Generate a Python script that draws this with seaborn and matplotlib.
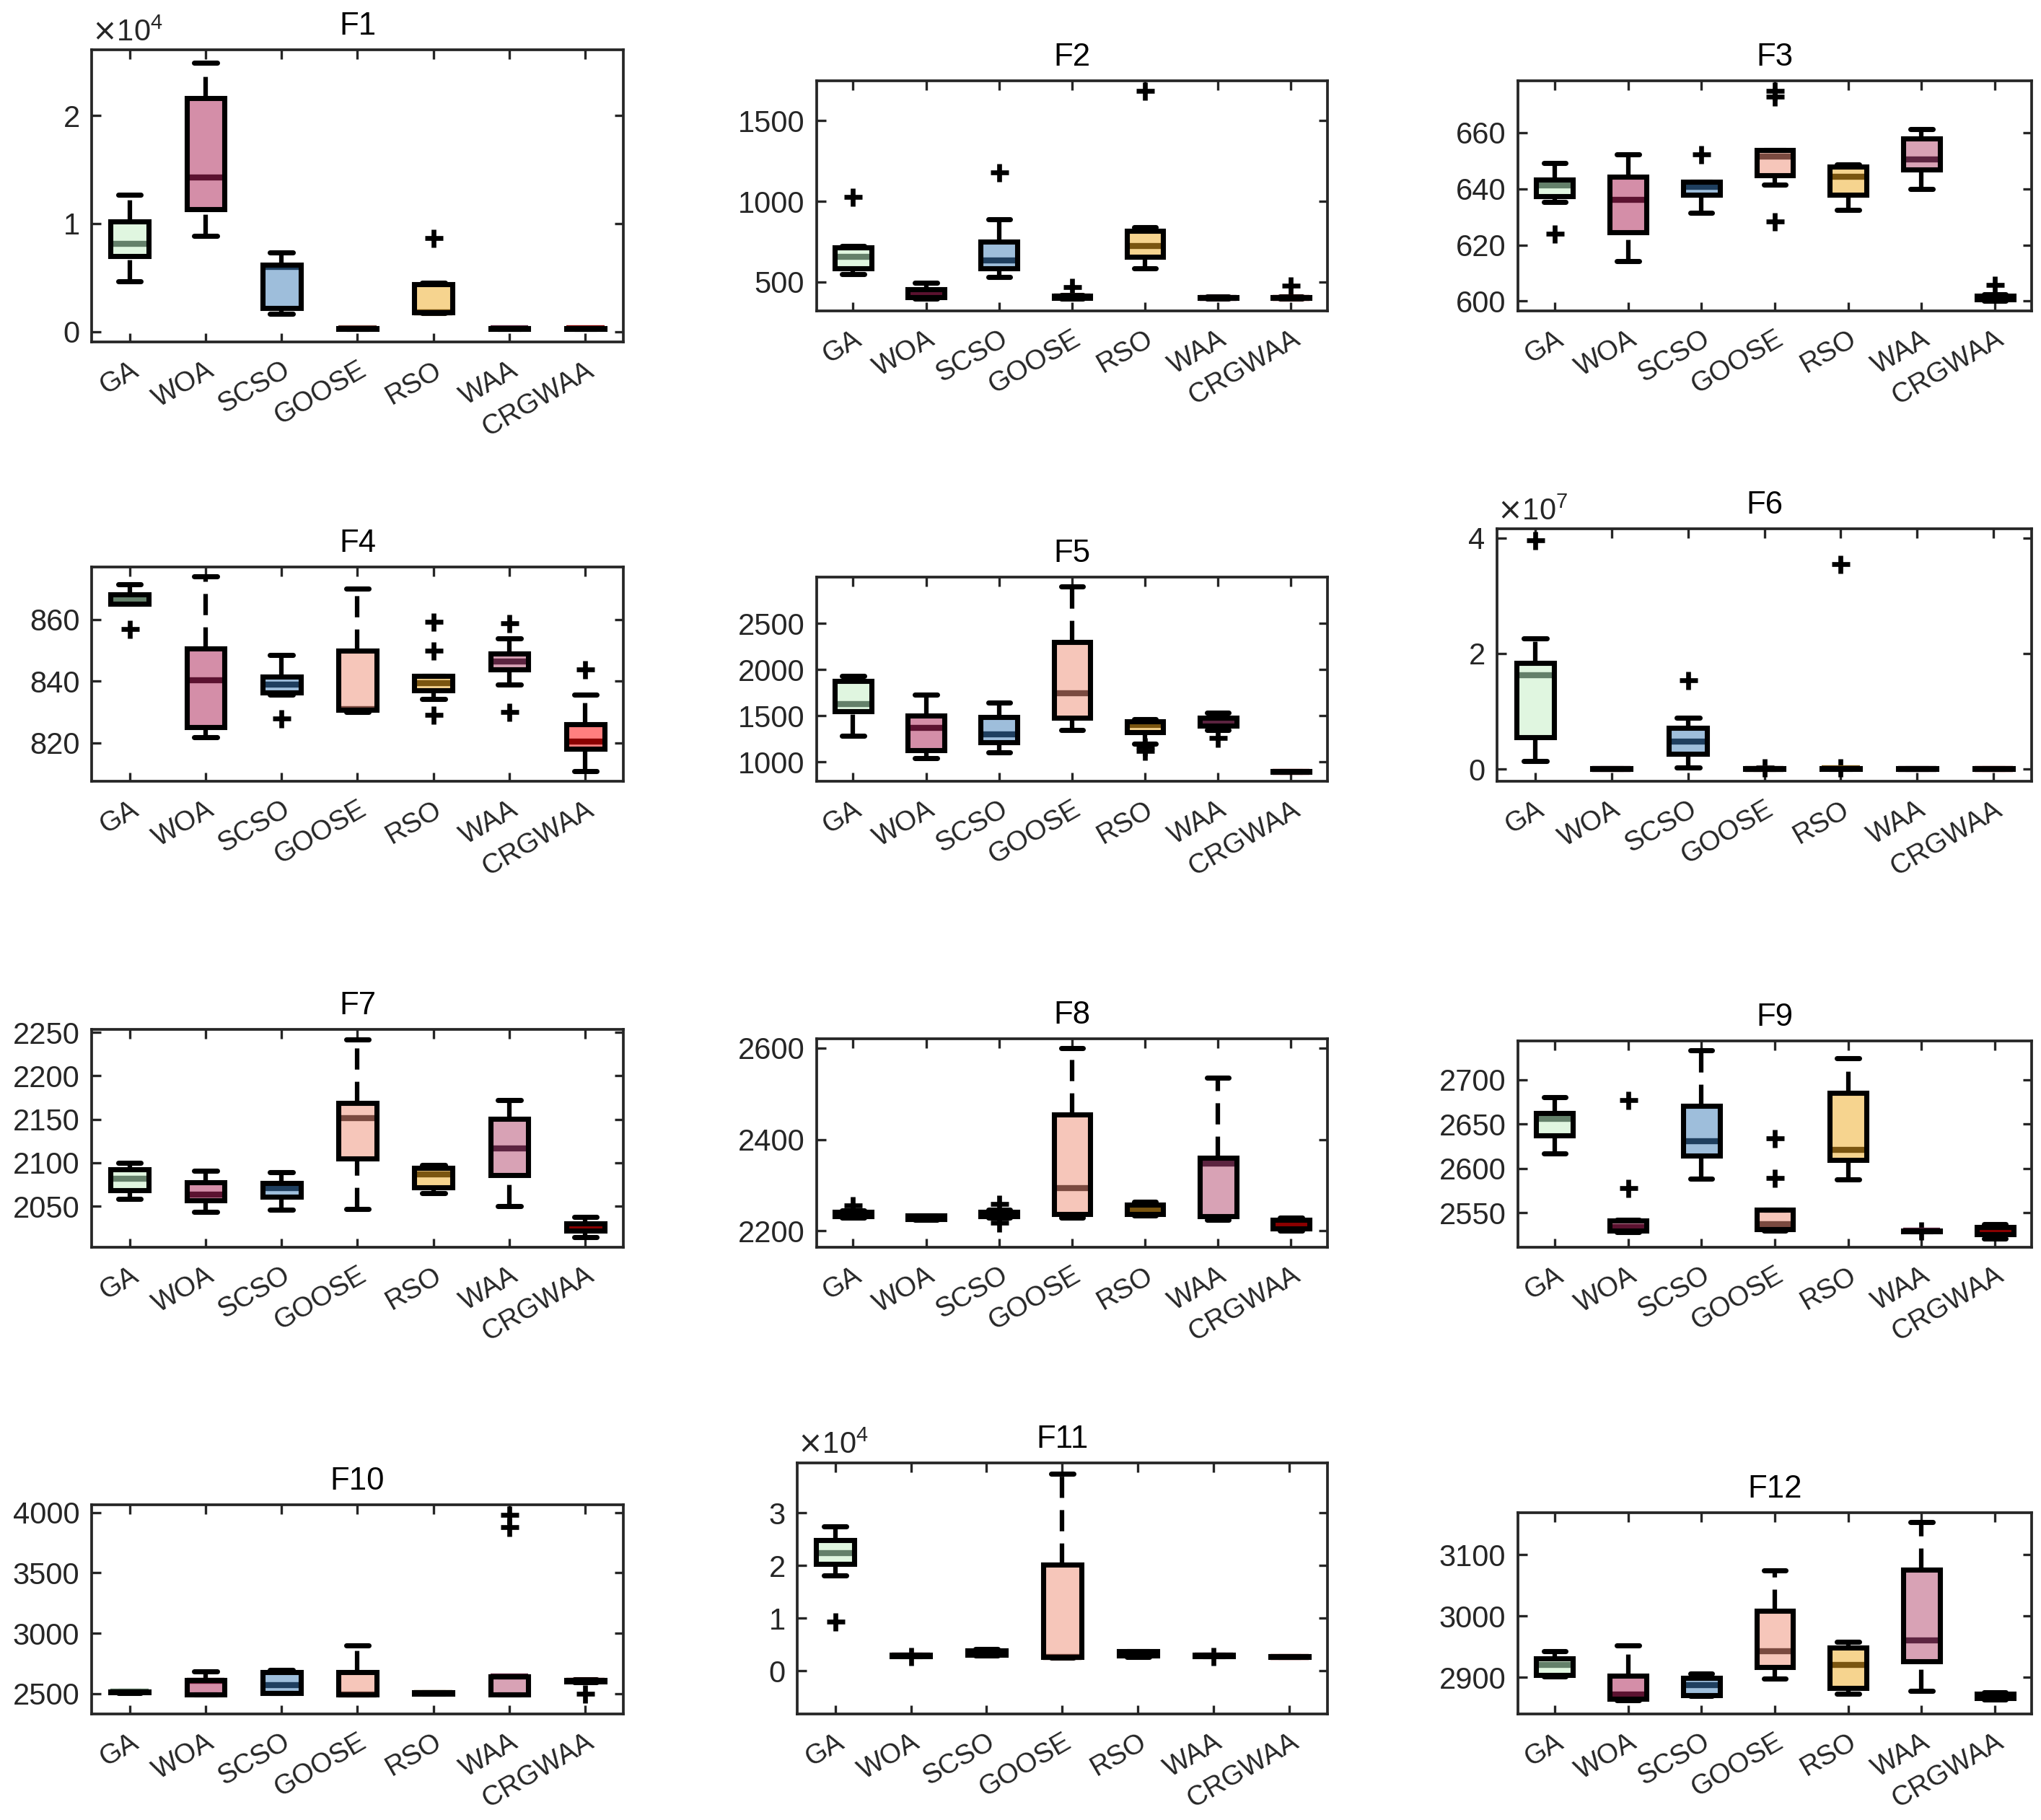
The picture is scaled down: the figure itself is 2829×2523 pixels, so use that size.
import numpy as np
import seaborn as sns
import matplotlib.pyplot as plt
from matplotlib.patches import PathPatch

algos = ['GA', 'WOA', 'SCSO', 'GOOSE', 'RSO', 'WAA', 'CRGWAA']
fill_colors = ['#e0f6e0', '#d48ea8', '#9ebedb', '#f6c6ba', '#f6d48f', '#d8a2b5', '#ff7f7f']
median_colors = ['#64806a', '#5b1230', '#1f3f5f', '#7a4a40', '#7a5510', '#5c2440', '#8b0000']

# one row per algorithm: lower whisker, q1, median, q3, upper whisker
f1_box = [[4660, 6960, 8130, 10210, 12680], [8820, 11320, 14230, 21580, 24880],
          [1610, 2160, 6000, 6190, 7300], [250, 270, 280, 300, 320],
          [1700, 1750, 1800, 4380, 4500], [250, 270, 280, 290, 310],
          [250, 270, 280, 290, 310]]
f1_out = [[], [], [], [], [8680], [], []]

f2_box = [[548, 583, 657, 712, 721], [395, 404, 426, 454, 493],
          [533, 583, 635, 749, 887], [395, 400, 408, 415, 420],
          [585, 657, 721, 819, 838], [398, 400, 403, 406, 409],
          [398, 400, 403, 407, 410]]
f2_out = [[1028], [], [1179], [469], [1686], [], [478]]

f3_box = [[635.2, 637.4, 641.3, 643.2, 649.2], [614.3, 624.6, 636.1, 644.2, 652.2],
          [631.5, 637.9, 640.8, 642.4, 642.6], [641.6, 644.8, 651.5, 653.8, 653.8],
          [632.6, 637.9, 644.4, 647.9, 648.8], [640.0, 646.8, 650.6, 658.0, 661.4],
          [600.2, 600.5, 601.2, 601.9, 602.3]]
f3_out = [[623.9], [], [652.4], [628.3, 672.9, 675.0], [], [], [605.8]]

f4_box = [[865.0, 865.0, 866.7, 868.2, 871.5], [821.9, 825.1, 840.4, 850.6, 873.9],
          [835.6, 836.4, 838.9, 841.4, 848.5], [829.9, 830.7, 830.9, 849.8, 870.1],
          [834.3, 837.1, 839.3, 841.7, 841.7], [838.9, 843.8, 846.3, 849.0, 853.8],
          [810.9, 818.0, 820.5, 826.1, 835.7]]
f4_out = [[856.9], [], [827.9], [], [829.1, 850.0, 859.2], [830.0, 858.8], [843.7]]

f5_box = [[1286, 1547, 1631, 1875, 1931], [1042, 1126, 1373, 1499, 1729],
          [1107, 1210, 1303, 1485, 1645], [1350, 1482, 1743, 2298, 2901],
          [1200, 1322, 1398, 1443, 1463], [1350, 1392, 1434, 1482, 1533],
          [892, 894, 896, 898, 900]]
f5_out = [[], [], [], [], [1118, 1168], [1258], []]

f6_box = [[1.43e6, 5.46e6, 1.625e7, 1.843e7, 2.26e7], [2e4, 4e4, 6e4, 8e4, 1e5],
          [2.9e5, 2.66e6, 4.75e6, 7.17e6, 8.93e6], [2e4, 4e4, 6e4, 8e4, 1.2e5],
          [3e4, 5e4, 8e4, 1.1e5, 1.5e5], [2e4, 4e4, 6e4, 8e4, 1e5],
          [2e4, 4e4, 6e4, 8e4, 1e5]]
f6_out = [[3.967e7], [], [1.534e7], [3e5], [3e5, 3.553e7], [], []]

f7_box = [[2058.5, 2068.4, 2082.0, 2092.4, 2100.0], [2043.8, 2057.0, 2063.3, 2077.7, 2090.4],
          [2046.3, 2061.3, 2071.2, 2076.3, 2089.0], [2047.2, 2104.5, 2151.4, 2168.6, 2242.0],
          [2065.0, 2072.0, 2086.7, 2093.8, 2097.5], [2050.0, 2086.2, 2116.4, 2150.8, 2172.3],
          [2014.1, 2021.8, 2026.0, 2030.2, 2037.9]]
f7_out = [[], [], [], [], [], [], []]

f8_box = [[2229, 2232, 2237, 2241, 2244], [2224, 2226, 2229, 2233, 2234],
          [2228, 2232, 2237, 2242, 2246], [2228, 2237, 2293, 2454, 2599],
          [2234, 2236, 2246, 2257, 2264], [2224, 2232, 2347, 2359, 2535],
          [2200, 2205, 2213, 2224, 2229]]
f8_out = [[2255], [], [2218, 2258], [], [], [], []]

f9_box = [[2617, 2637, 2655.8, 2662.7, 2680.7], [2528, 2529.5, 2534, 2541, 2542],
          [2588, 2614.4, 2631, 2670.4, 2733], [2530, 2531, 2537, 2553, 2553],
          [2587.3, 2609.4, 2621.3, 2685, 2724], [2529, 2529.3, 2529.5, 2529.7, 2530],
          [2521, 2526, 2529.6, 2534, 2537]]
f9_out = [[], [2578, 2677], [], [2589, 2634], [], [2530], []]

f10_box = [[2505, 2510, 2515, 2520, 2525], [2494, 2494, 2607, 2614, 2682],
           [2506, 2506, 2571, 2676, 2699], [2494, 2494, 2494, 2676, 2901],
           [2500, 2502, 2506, 2510, 2512], [2494, 2494, 2640, 2644, 2644],
           [2597, 2600, 2607, 2614, 2617]]
f10_out = [[], [], [], [], [], [3878, 3979], [2500]]

f11_box = [[18090, 20340, 22300, 24850, 27450], [2800, 2850, 2900, 3000, 3050],
           [2900, 3100, 3500, 3900, 4100], [2500, 2650, 2700, 20200, 37350],
           [2700, 2900, 3300, 3700, 3800], [2800, 2850, 2900, 3000, 3050],
           [2600, 2650, 2700, 2750, 2800]]
f11_out = [[9410], [2800], [], [], [], [2800], []]

f12_box = [[2901, 2904, 2920, 2931, 2942], [2862, 2865, 2872, 2902, 2951.5],
           [2869, 2871, 2887, 2899, 2906], [2898, 2917, 2942, 3009, 3074],
           [2873, 2882, 2920, 2948, 2958], [2878, 2926, 2960, 3076, 3154],
           [2864, 2866, 2870, 2873, 2875]]
f12_out = [[], [], [], [], [], [], []]

titles = ['F1', 'F2', 'F3', 'F4', 'F5', 'F6', 'F7', 'F8', 'F9', 'F10', 'F11', 'F12']
boxes = [f1_box, f2_box, f3_box, f4_box, f5_box, f6_box,
         f7_box, f8_box, f9_box, f10_box, f11_box, f12_box]
outliers = [f1_out, f2_out, f3_out, f4_out, f5_out, f6_out,
            f7_out, f8_out, f9_out, f10_out, f11_out, f12_out]
yticks = [[0, 10000, 20000], [500, 1000, 1500], [600, 620, 640, 660], [820, 840, 860],
          [1000, 1500, 2000, 2500], [0, 2e7, 4e7], [2050, 2100, 2150, 2200, 2250],
          [2200, 2400, 2600], [2550, 2600, 2650, 2700], [2500, 3000, 3500, 4000],
          [0, 10000, 20000, 30000], [2900, 3000, 3100]]
ylims = [(-970, 26070), (321, 1747), (596.5, 678.5), (807.5, 877), (790, 3004),
         (-2.14e6, 4.16e7), (2002.8, 2253.4), (2164, 2620), (2511, 2744),
         (2333, 4064), (-8140, 39460), (2840, 3169)]
sci = [True, False, False, False, False, True, False, False, False, False, True, False]

# axes rectangles (figure fractions), MATLAB subplot layout
rects = [[0.0449, 0.8121, 0.2605, 0.1605], [0.4001, 0.8292, 0.2503, 0.1264], [0.7437, 0.8292, 0.2517, 0.1264],
         [0.0449, 0.5707, 0.2605, 0.1177], [0.4001, 0.5707, 0.2503, 0.1122], [0.7335, 0.5707, 0.2619, 0.1387],
         [0.0449, 0.3147, 0.2605, 0.1197], [0.4001, 0.3147, 0.2503, 0.1145], [0.7437, 0.3147, 0.2517, 0.1134],
         [0.0449, 0.0583, 0.2605, 0.1149], [0.3906, 0.0583, 0.2598, 0.1379], [0.7437, 0.0583, 0.2517, 0.1106]]

sns.set_theme(style='ticks')
plt.rcParams['font.family'] = ['Liberation Sans', 'DejaVu Sans']
plt.rcParams['lines.scale_dashes'] = True

fig = plt.figure(figsize=(2829 / 300, 2523 / 300), dpi=300)
lw = 1.7
wlw = 1.5
pos = np.arange(1, len(algos) + 1)

for k in range(12):
    ax = fig.add_axes(rects[k])
    stats = []
    for a, b, o in zip(algos, boxes[k], outliers[k]):
        stats.append(dict(label=a, whislo=b[0], q1=b[1], med=b[2], q3=b[3], whishi=b[4], fliers=o))
    parts = ax.bxp(stats, positions=pos, widths=0.5, capwidths=0.3, patch_artist=True,
                   boxprops=dict(edgecolor='none', linewidth=0),
                   whiskerprops=dict(color='black', linewidth=wlw, linestyle=(0, (4.7, 2.7))),
                   capprops=dict(color='black', linewidth=lw),
                   medianprops=dict(linewidth=2.0, solid_capstyle='butt'),
                   flierprops=dict(marker='+', markersize=6, markeredgewidth=1.6,
                                   markeredgecolor='black', linestyle='none'))
    for patch, fc in zip(parts['boxes'], fill_colors):
        patch.set_facecolor(fc)
        # black outline on top of the median, like MATLAB
        ax.add_patch(PathPatch(patch.get_path(), fill=False, edgecolor='black',
                               linewidth=lw, joinstyle='miter', zorder=4))
    for med, mc in zip(parts['medians'], median_colors):
        med.set_color(mc)
        med.set_zorder(3)
    # MATLAB draws the lower whisker from its end up to the box
    for i, w in enumerate(parts['whiskers']):
        if i % 2 == 0:
            w.set_ydata(w.get_ydata()[::-1])

    ax.set_xlim(0.5, 7.5)
    ax.set_ylim(*ylims[k])
    ax.set_yticks(yticks[k])
    ax.set_xticks(pos)
    ax.set_xticklabels(algos, rotation=30, ha='right', va='top', rotation_mode='anchor')
    if sci[k]:
        ax.ticklabel_format(axis='y', style='sci', scilimits=(0, 0), useMathText=True)
        ax.yaxis.get_offset_text().set_fontsize(10)
        ax.yaxis.get_offset_text().set_color('#404040')
    ax.tick_params(axis='both', which='major', direction='in', length=3, width=0.8,
                   top=True, right=True, colors='#262626')
    ax.tick_params(axis='y', pad=4, labelsize=10)
    ax.tick_params(axis='x', pad=5, labelsize=9.2)
    for s in ax.spines.values():
        s.set_linewidth(0.9)
        s.set_color('#262626')
        s.set_zorder(5)
    ax.set_title(titles[k], fontsize=10.5, color='black', pad=5)

fig.savefig('out.png', dpi=300)
